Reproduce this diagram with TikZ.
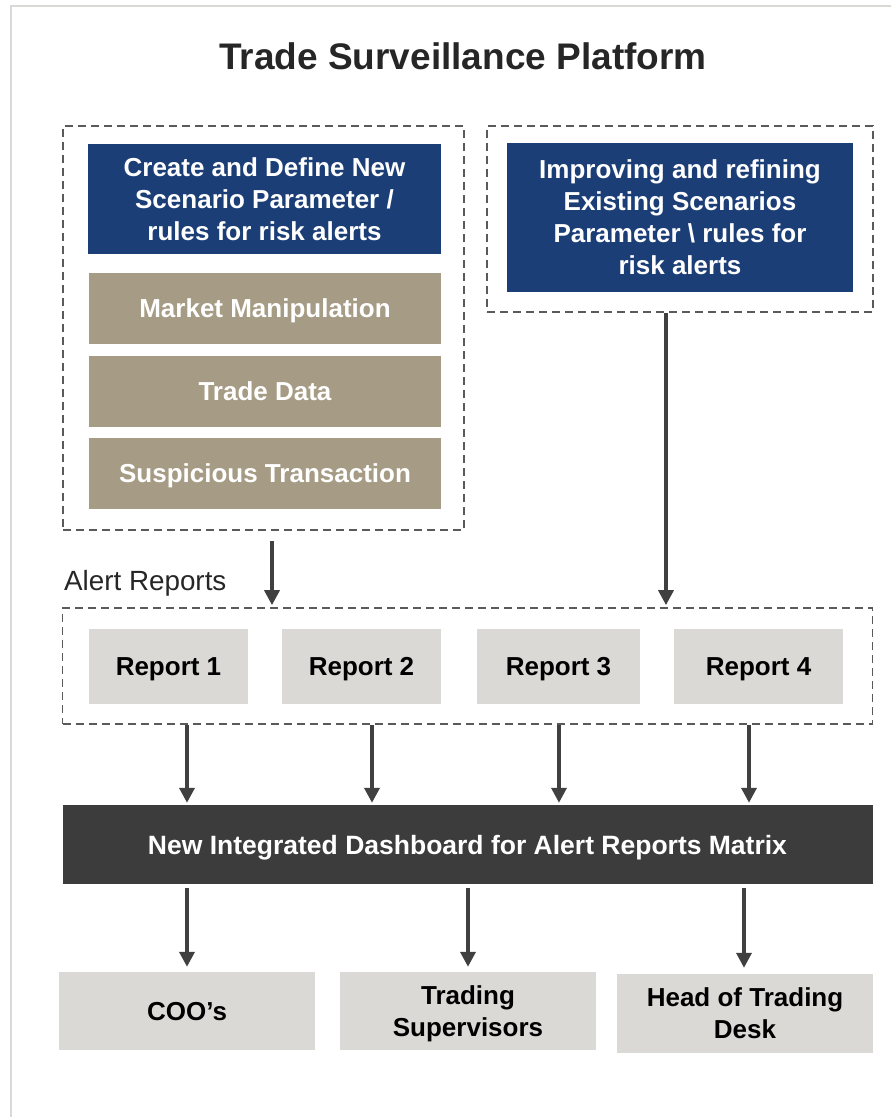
\documentclass[tikz,border=0pt]{standalone}
\usepackage{fontspec}
\setmainfont{Liberation Sans}
\usetikzlibrary{arrows.meta,calc}
\definecolor{navy}{HTML}{1C3E77}
\definecolor{tanc}{HTML}{A69B84}
\definecolor{lgray}{HTML}{DAD9D5}
\definecolor{darkbar}{HTML}{3B3C3B}
\definecolor{dashgray}{HTML}{5A5A5A}
\definecolor{arrowc}{HTML}{404040}
\definecolor{framec}{HTML}{D9D9D6}
\definecolor{titlec}{HTML}{262626}
\begin{document}
\begin{tikzpicture}[x=1pt,y=-1pt,
  box/.style={rectangle, inner sep=0pt, align=center, text depth=0pt, font=\fontsize{26}{32}\selectfont\bfseries},
  bluebox/.style={box, fill=navy, text=white},
  tanbox/.style={box, fill=tanc, text=white, minimum width=352pt, minimum height=71pt},
  graybox/.style={box, fill=lgray, text=black},
  grp/.style={rectangle, draw=dashgray, line width=1.7pt, dash pattern=on 8pt off 5pt, inner sep=0pt},
  arr/.style={draw=arrowc, line width=3.5pt, -{Triangle[width=15pt,length=15pt]}}]

\useasboundingbox (0,0) rectangle (891,1117);
\draw[framec, line width=2pt] (10.5,1117) -- (10.5,5.5) -- (891,5.5);

\node[font=\fontsize{37}{44}\selectfont\bfseries, text=titlec, anchor=base, inner sep=0pt] (title) at (463,69) {Trade Surveillance Platform};

% left group
\node[grp, minimum width=401pt, minimum height=404pt] (leftgrp) at (263.5,328) {};
\node[bluebox, minimum width=353pt, minimum height=110pt] (blue1) at (264.5,199) {Create and Define New\\Scenario Parameter /\\rules for risk alerts};
\node[tanbox] (tan1) at (265,308.5) {Market Manipulation};
\node[tanbox] (tan2) at (265,391.5) {Trade Data};
\node[tanbox] (tan3) at (265,473.5) {Suspicious Transaction};

% right group
\node[grp, minimum width=386pt, minimum height=186pt] (rightgrp) at (680,219) {};
\node[bluebox, minimum width=346pt, minimum height=149pt] (blue2) at (680,217.5) {Improving and refining\\Existing Scenarios\\Parameter \textbackslash{} rules for\\risk alerts};

% alert reports
\node[font=\fontsize{27.8}{32}\selectfont, text=titlec, anchor=base west, inner sep=0pt] (alertlbl) at (64,590) {Alert Reports};
\node[grp, minimum width=810pt, minimum height=116pt] (alertbox) at (467.5,666) {};
\node[graybox, minimum width=159pt, minimum height=75pt] (r1) at (168.5,666.5) {Report 1};
\node[graybox, minimum width=159pt, minimum height=75pt] (r2) at (361.5,666.5) {Report 2};
\node[graybox, minimum width=163pt, minimum height=75pt] (r3) at (558.5,666.5) {Report 3};
\node[graybox, minimum width=169pt, minimum height=75pt] (r4) at (758.5,666.5) {Report 4};

% dashboard bar
\node[box, fill=darkbar, text=white, minimum width=810pt, minimum height=79pt, font=\fontsize{26.5}{32}\selectfont\bfseries] (bar) at (467.5,844.5) {New Integrated Dashboard for Alert Reports Matrix};

% bottom boxes
\node[graybox, minimum width=256pt, minimum height=78pt] (coo) at (187,1011) {COO’s};
\node[graybox, minimum width=256pt, minimum height=78pt] (ts) at (468,1011) {Trading\\Supervisors};
\node[graybox, minimum width=256pt, minimum height=79pt] (htd) at (745,1013.5) {Head of Trading\\Desk};

% arrows into alert box
\draw[arr, shorten >=2pt] ([xshift=8.5pt,yshift=-10pt]leftgrp.south) -- ([xshift=8.5pt]leftgrp.south |- alertbox.north);
\draw[arr, shorten >=2pt] ([xshift=-14pt]rightgrp.south) -- ([xshift=-14pt]rightgrp.south |- alertbox.north);

% arrows from alert box to bar
\coordinate (c1) at (187,0);
\coordinate (c2) at (372,0);
\coordinate (c3) at (559,0);
\coordinate (c4) at (749,0);
\foreach \c in {c1,c2,c3,c4}
  \draw[arr, shorten >=2pt] (alertbox.south -| \c) -- (bar.north -| \c);

% arrows from bar to bottom boxes
\draw[arr, shorten <=4pt, shorten >=5pt] (bar.south -| coo.north) -- (coo.north);
\draw[arr, shorten <=4pt, shorten >=5pt] (bar.south -| ts.north) -- (ts.north);
\coordinate (c5) at (744,0);
\draw[arr, shorten <=4pt, shorten >=6pt] (bar.south -| c5) -- (htd.north -| c5);
\end{tikzpicture}
\end{document}
